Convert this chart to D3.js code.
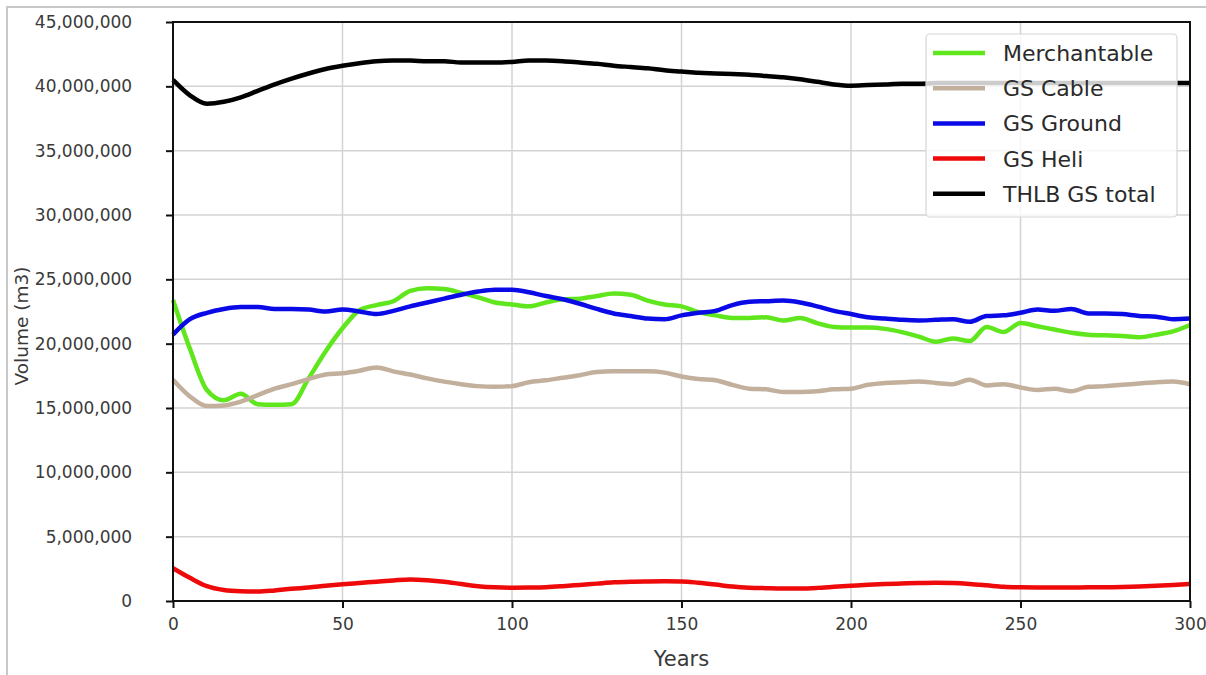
<!DOCTYPE html>
<html>
<head>
<meta charset="utf-8">
<script src="https://cdn.jsdelivr.net/npm/d3@7"></script>
<style>
  html, body { margin: 0; padding: 0; background: #fff; }
  svg { display: block; }
  text { font-family: "DejaVu Sans", sans-serif; }
</style>
</head>
<body>
<svg id="chart" width="1206" height="675"></svg>
<script>
// Growing stock volume over a 300-year planning horizon (values in million m3, 5-year steps)
const years = d3.range(0, 301, 5);

const merchantable = [23.4, 19.6, 16.4, 15.6, 16.1, 15.3, 15.25, 15.3, 17.3, 19.4,
  21.2, 22.6, 23.0, 23.3, 24.1, 24.3, 24.25, 23.95, 23.6, 23.2,
  23.05, 22.9, 23.2, 23.45, 23.5, 23.7, 23.9, 23.8, 23.35, 23.05,
  22.9, 22.45, 22.2, 22.0, 22.0, 22.05, 21.8, 22.0, 21.6, 21.3,
  21.25, 21.25, 21.15, 20.9, 20.55, 20.15, 20.4, 20.2, 21.3, 20.9,
  21.6, 21.35, 21.1, 20.85, 20.7, 20.65, 20.6, 20.5, 20.7, 20.95, 21.45];

const gsCable = [17.2, 15.9, 15.15, 15.2, 15.5, 16.0, 16.5, 16.85, 17.25, 17.6,
  17.7, 17.9, 18.15, 17.85, 17.6, 17.3, 17.05, 16.85, 16.7, 16.65,
  16.7, 17.0, 17.15, 17.35, 17.55, 17.8, 17.85, 17.85, 17.85, 17.75,
  17.45, 17.25, 17.15, 16.8, 16.5, 16.45, 16.25, 16.25, 16.3, 16.45,
  16.5, 16.8, 16.95, 17.0, 17.05, 16.95, 16.85, 17.2, 16.75, 16.85,
  16.6, 16.4, 16.5, 16.3, 16.65, 16.7, 16.8, 16.9, 17.0, 17.05, 16.85];

const gsGround = [20.7, 21.9, 22.4, 22.7, 22.85, 22.85, 22.7, 22.7, 22.65, 22.5,
  22.65, 22.5, 22.3, 22.55, 22.9, 23.2, 23.5, 23.8, 24.05, 24.2,
  24.2, 24.0, 23.7, 23.45, 23.1, 22.7, 22.35, 22.15, 21.95, 21.9,
  22.2, 22.4, 22.55, 23.0, 23.25, 23.3, 23.35, 23.2, 22.9, 22.55,
  22.3, 22.05, 21.95, 21.85, 21.8, 21.85, 21.9, 21.7, 22.15, 22.2,
  22.4, 22.65, 22.55, 22.7, 22.35, 22.35, 22.3, 22.15, 22.1, 21.9, 21.95];

const gsHeli = [2.55, 1.8, 1.15, 0.85, 0.75, 0.73, 0.82, 0.95, 1.05, 1.18,
  1.3, 1.4, 1.5, 1.6, 1.68, 1.62, 1.5, 1.32, 1.15, 1.06,
  1.03, 1.04, 1.07, 1.15, 1.25, 1.35, 1.45, 1.5, 1.52, 1.53,
  1.52, 1.42, 1.28, 1.12, 1.03, 1.0, 0.98, 0.98, 1.02, 1.1,
  1.18, 1.26, 1.32, 1.36, 1.4, 1.42, 1.4, 1.33, 1.22, 1.1,
  1.06, 1.05, 1.05, 1.05, 1.06, 1.06, 1.08, 1.12, 1.18, 1.25, 1.32];

const thlbTotal = [40.5, 39.3, 38.65, 38.8, 39.15, 39.65, 40.15, 40.6, 41.0, 41.35,
  41.6, 41.8, 41.95, 42.0, 42.0, 41.95, 41.95, 41.85, 41.85, 41.85,
  41.9, 42.0, 42.0, 41.95, 41.85, 41.75, 41.6, 41.5, 41.4, 41.25,
  41.15, 41.05, 41.0, 40.95, 40.9, 40.8, 40.7, 40.55, 40.35, 40.15,
  40.05, 40.1, 40.15, 40.2, 40.2, 40.25, 40.25, 40.25, 40.25, 40.25,
  40.25, 40.25, 40.25, 40.25, 40.25, 40.25, 40.25, 40.25, 40.25, 40.25, 40.25];

const seriesNames = ["Merchantable", "GS Cable", "GS Ground", "GS Heli", "THLB GS total"];
const seriesColors = ["#5fe61c", "#c2b09c", "#0a0ae6", "#ee0a0a", "#000000"];
const seriesValues = [merchantable, gsCable, gsGround, gsHeli, thlbTotal];

const xTicks = [0, 50, 100, 150, 200, 250, 300];
const yTicks = d3.range(0, 45000001, 5000000);

const svg = d3.select("#chart");
const margin = { left: 173, right: 1190, top: 22, bottom: 601 };

// figure frame
svg.append("line").attr("x1", 6).attr("x2", 1206).attr("y1", 7).attr("y2", 7)
  .attr("stroke", "#c8c8c8").attr("stroke-width", 2);
svg.append("line").attr("x1", 7).attr("x2", 7).attr("y1", 6).attr("y2", 675)
  .attr("stroke", "#c8c8c8").attr("stroke-width", 2);

const x = d3.scaleLinear().domain([0, 300]).range([margin.left, margin.right]);
const y = d3.scaleLinear().domain([0, 45000000]).range([margin.bottom, margin.top]);

// grid
const grid = svg.append("g");
grid.selectAll("line.gx").data(xTicks).join("line")
  .attr("x1", d => x(d)).attr("x2", d => x(d))
  .attr("y1", margin.top).attr("y2", margin.bottom)
  .attr("stroke", "#d3d3d3").attr("stroke-width", 1.5);
grid.selectAll("line.gy").data(yTicks).join("line")
  .attr("x1", margin.left).attr("x2", margin.right)
  .attr("y1", d => y(d)).attr("y2", d => y(d))
  .attr("stroke", "#d3d3d3").attr("stroke-width", 1.5);

// series
const line = d3.line()
  .x((d, i) => x(years[i]))
  .y(d => y(d * 1e6))
  .curve(d3.curveMonotoneX);

const plot = svg.append("g");
seriesValues.forEach((vals, k) => {
  plot.append("path")
    .attr("d", line(vals))
    .attr("fill", "none")
    .attr("stroke", seriesColors[k])
    .attr("stroke-width", 4.5)
    .attr("stroke-linejoin", "round")
    .attr("stroke-linecap", "butt");
});

// frame of the axes
svg.append("rect")
  .attr("x", margin.left).attr("y", margin.top)
  .attr("width", margin.right - margin.left).attr("height", margin.bottom - margin.top)
  .attr("fill", "none").attr("stroke", "#111").attr("stroke-width", 2);

// axes
const fmt = d3.format(",");
const xAxis = svg.append("g")
  .attr("transform", `translate(0,${margin.bottom})`)
  .call(d3.axisBottom(x).tickValues(xTicks).tickSize(7).tickPadding(6).tickFormat(d3.format("d")));
const yAxis = svg.append("g")
  .attr("transform", `translate(${margin.left},0)`)
  .call(d3.axisLeft(y).tickValues(yTicks).tickSize(7).tickPadding(33).tickFormat(fmt));

[xAxis, yAxis].forEach(a => {
  a.select(".domain").remove();
  a.selectAll(".tick line").attr("stroke", "#111").attr("stroke-width", 2);
  a.selectAll(".tick text")
    .attr("fill", "#3a3a3a")
    .style("font-size", "17px")
    .style("font-family", "DejaVu Sans, sans-serif");
});
yAxis.selectAll(".tick text").attr("dx", "-0.05em");
xAxis.selectAll(".tick text").attr("dy", "0.95em");

// axis titles
svg.append("text")
  .attr("x", (margin.left + margin.right) / 2).attr("y", 666)
  .attr("text-anchor", "middle")
  .attr("fill", "#3a3a3a")
  .style("font-size", "21px")
  .text("Years");
svg.append("text")
  .attr("transform", `translate(28,326) rotate(-90)`)
  .attr("text-anchor", "middle")
  .attr("fill", "#3a3a3a")
  .style("font-size", "18.5px")
  .text("Volume (m3)");

// legend
const legend = svg.append("g");
legend.append("rect")
  .attr("x", 926).attr("y", 34).attr("width", 251).attr("height", 183)
  .attr("rx", 4).attr("ry", 4)
  .attr("fill", "#fff").attr("fill-opacity", 0.8)
  .attr("stroke", "#d6d6d6").attr("stroke-width", 1.2);
seriesNames.forEach((name, k) => {
  const cy = 53 + k * 35.2;
  legend.append("line")
    .attr("x1", 933).attr("x2", 985).attr("y1", cy).attr("y2", cy)
    .attr("stroke", seriesColors[k]).attr("stroke-width", 4.5);
  legend.append("text")
    .attr("x", 1003).attr("y", cy + 8)
    .attr("fill", "#2a2a2a")
    .style("font-size", "22px")
    .text(name);
});
</script>
</body>
</html>
